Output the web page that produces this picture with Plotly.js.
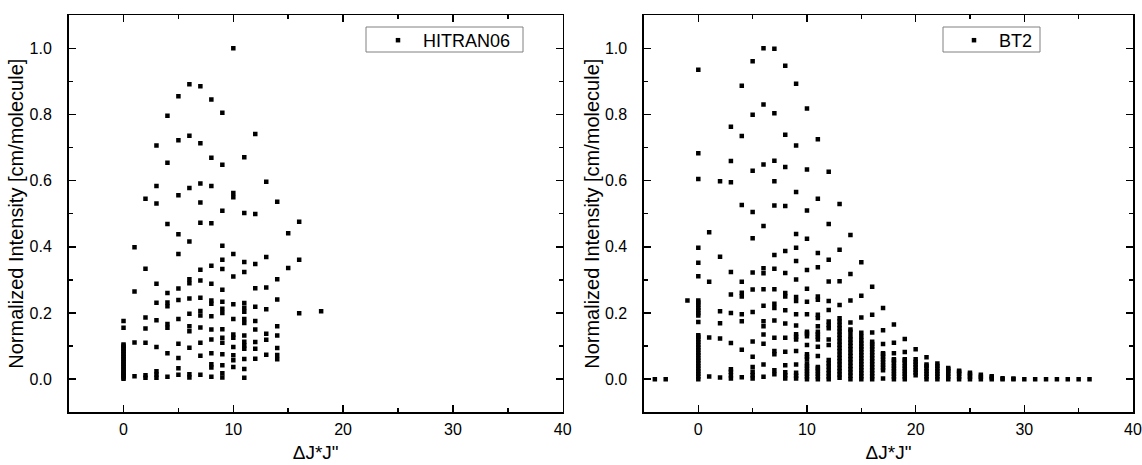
<!DOCTYPE html>
<html>
<head>
<meta charset="utf-8">
<script src="https://cdn.plot.ly/plotly-3.0.1.min.js"></script>
<style>html,body{margin:0;padding:0;background:#fff;}#chart{width:1142px;height:465px;}</style>
</head>
<body>
<div id="chart"></div>
<script>
// ---- Data: HITRAN06 (left panel) ----
const hitranJ = [0,1,2,3,4,5,6,7,8,9,10,11,12,13,14,15,16,18];
const hitranI = [
  [0.001,0.005,0.009,0.013,0.017,0.021,0.026,0.031,0.036,0.041,0.046,0.051,0.056,0.061,0.066,0.071,0.076,0.081,0.086,0.091,0.096,0.101,0.105,0.155,0.176],
  [0.009,0.111,0.265,0.399],
  [0.004,0.012,0.110,0.153,0.186,0.334,0.545],
  [0.004,0.014,0.024,0.097,0.178,0.231,0.288,0.531,0.584,0.706],
  [0.007,0.078,0.155,0.167,0.220,0.232,0.260,0.469,0.654,0.796],
  [0.013,0.033,0.064,0.107,0.182,0.239,0.274,0.378,0.438,0.556,0.722,0.855],
  [0.005,0.015,0.095,0.145,0.160,0.198,0.244,0.290,0.302,0.416,0.578,0.736,0.891],
  [0.013,0.071,0.110,0.156,0.192,0.206,0.246,0.298,0.331,0.473,0.534,0.591,0.713,0.885],
  [0.007,0.035,0.045,0.078,0.120,0.150,0.190,0.228,0.238,0.288,0.343,0.471,0.584,0.669,0.845],
  [0.005,0.018,0.042,0.075,0.110,0.125,0.151,0.200,0.213,0.234,0.270,0.333,0.361,0.403,0.509,0.648,0.805],
  [0.037,0.057,0.072,0.097,0.125,0.135,0.182,0.226,0.310,0.378,0.550,0.563,1.000],
  [0.004,0.031,0.061,0.092,0.102,0.113,0.132,0.170,0.182,0.204,0.216,0.230,0.324,0.354,0.502,0.671],
  [0.062,0.092,0.112,0.150,0.176,0.219,0.275,0.348,0.499,0.741],
  [0.074,0.119,0.137,0.211,0.277,0.369,0.597],
  [0.060,0.073,0.094,0.132,0.160,0.241,0.302,0.536],
  [0.336,0.441],
  [0.199,0.361,0.476],
  [0.205]
];

// ---- Data: BT2 (right panel) ----
const bt2J = [-4,-3,-1,0,1,2,3,4,5,6,7,8,9,10,11,12,13,14,15,16,17,18,19,20,21,22,23,24,25,26,27,28,29,30,31,32,33,34,35,36];
const bt2I = [
  [0.0],
  [0.0],
  [0.238],
  [0.0,0.008,0.016,0.024,0.032,0.040,0.048,0.056,0.064,0.072,0.080,0.088,0.096,0.104,0.112,0.120,0.128,0.133,0.173,0.192,0.200,0.208,0.216,0.224,0.232,0.238,0.311,0.352,0.397,0.605,0.683,0.935],
  [0.008,0.126,0.294,0.444],
  [0.005,0.123,0.169,0.205,0.370,0.598],
  [0.002,0.012,0.022,0.030,0.109,0.200,0.256,0.324,0.595,0.659,0.763],
  [0.006,0.089,0.175,0.196,0.250,0.261,0.294,0.526,0.735,0.887],
  [0.002,0.012,0.022,0.037,0.068,0.114,0.203,0.271,0.322,0.426,0.505,0.630,0.799,0.961],
  [0.007,0.044,0.107,0.135,0.160,0.175,0.222,0.272,0.320,0.335,0.463,0.649,0.830,1.000],
  [0.015,0.027,0.075,0.085,0.125,0.177,0.215,0.228,0.272,0.334,0.375,0.525,0.598,0.660,0.804,0.999],
  [0.002,0.012,0.021,0.042,0.083,0.125,0.168,0.208,0.250,0.260,0.321,0.387,0.523,0.641,0.739,0.947],
  [0.002,0.010,0.019,0.044,0.085,0.120,0.128,0.136,0.162,0.196,0.236,0.248,0.301,0.357,0.397,0.439,0.566,0.706,0.893],
  [0.0,0.008,0.016,0.024,0.032,0.040,0.047,0.060,0.068,0.075,0.103,0.130,0.138,0.143,0.196,0.234,0.273,0.330,0.424,0.510,0.634,0.818],
  [0.0,0.008,0.016,0.024,0.032,0.037,0.070,0.098,0.120,0.128,0.136,0.143,0.160,0.185,0.195,0.240,0.250,0.338,0.381,0.545,0.725],
  [0.0,0.008,0.018,0.028,0.038,0.048,0.058,0.103,0.120,0.154,0.164,0.174,0.209,0.236,0.295,0.361,0.469,0.627],
  [0.004,0.014,0.024,0.034,0.044,0.054,0.064,0.074,0.084,0.094,0.104,0.114,0.124,0.134,0.144,0.154,0.164,0.174,0.184,0.224,0.296,0.391,0.529],
  [0.0,0.010,0.020,0.030,0.040,0.050,0.060,0.070,0.080,0.090,0.100,0.110,0.120,0.130,0.143,0.150,0.171,0.238,0.318,0.436],
  [0.0,0.009,0.018,0.027,0.036,0.045,0.054,0.063,0.072,0.081,0.090,0.099,0.108,0.117,0.128,0.140,0.186,0.252,0.353],
  [0.0,0.009,0.018,0.027,0.036,0.045,0.054,0.063,0.072,0.081,0.090,0.099,0.106,0.113,0.141,0.195,0.279],
  [0.002,0.027,0.035,0.043,0.051,0.059,0.067,0.075,0.078,0.106,0.148,0.215],
  [0.0,0.008,0.016,0.024,0.032,0.040,0.048,0.056,0.060,0.078,0.110,0.165],
  [0.0,0.008,0.016,0.024,0.032,0.040,0.048,0.056,0.060,0.082,0.121],
  [0.012,0.020,0.028,0.036,0.044,0.052,0.060,0.090],
  [0.0,0.008,0.016,0.024,0.032,0.040,0.044,0.066],
  [0.0,0.008,0.016,0.024,0.032,0.040,0.047],
  [0.0,0.008,0.016,0.024,0.030,0.034],
  [0.0,0.008,0.016,0.022,0.025],
  [0.0,0.007,0.014,0.019],
  [0.0,0.007,0.013],
  [0.0,0.005,0.009],
  [0.0,0.003],
  [0.0,0.002],
  [0.0],[0.0],[0.0],[0.0],[0.0],[0.0],[0.0]
];

const xTitle = 'ΔJ*J"';
const yTitle = 'Normalized Intensity [cm/molecule]';

function flatten(js, cols) {
  const x = [], y = [];
  js.forEach((j, i) => cols[i].forEach(v => { x.push(j); y.push(v); }));
  return {x, y};
}

const h = flatten(hitranJ, hitranI);
const b = flatten(bt2J, bt2I);

const marker = {symbol: 'square', size: 4.5, color: '#000', line: {width: 0}};
const traces = [
  {type: 'scatter', mode: 'markers', name: 'HITRAN06', x: h.x, y: h.y, xaxis: 'x', yaxis: 'y', marker: marker, legend: 'legend'},
  {type: 'scatter', mode: 'markers', name: 'BT2', x: b.x, y: b.y, xaxis: 'x2', yaxis: 'y2', marker: marker, legend: 'legend2'}
];

const FONT = 'Liberation Sans, Arial, Helvetica, sans-serif';
function xax(domain) {
  return {
    domain: domain, range: [-5, 40], tick0: 0, dtick: 10,
    ticks: 'inside', ticklen: 7, tickwidth: 1.5, tickcolor: '#000',
    minor: {dtick: 5, ticks: 'inside', ticklen: 4, tickwidth: 1.5, tickcolor: '#000'},
    showline: true, linewidth: 1.6, linecolor: '#000', mirror: 'allticks',
    showgrid: false, zeroline: false, ticklabelstandoff: 2,
    tickfont: {family: FONT, size: 16, color: '#000'},
    title: {text: xTitle, font: {family: FONT, size: 19, color: '#000'}, standoff: 8},
    automargin: false
  };
}
function yax(anchor) {
  return {
    domain: [0.1135, 0.9673], range: [-0.1, 1.1], tick0: 0, dtick: 0.2, tickformat: '.1f',
    anchor: anchor,
    ticks: 'inside', ticklen: 7, tickwidth: 1.5, tickcolor: '#000',
    minor: {dtick: 0.1, ticks: 'inside', ticklen: 4, tickwidth: 1.5, tickcolor: '#000'},
    showline: true, linewidth: 1.6, linecolor: '#000', mirror: 'allticks',
    showgrid: false, zeroline: false, ticklabelstandoff: 12,
    tickfont: {family: FONT, size: 16, color: '#000'},
    title: {text: yTitle, font: {family: FONT, size: 20, color: '#000'}, standoff: 0},
    automargin: false
  };
}
const xa1 = xax([0.0601, 0.4927]); xa1.anchor = 'y';
const xa2 = xax([0.5639, 0.9921]); xa2.anchor = 'y2';

const legendBase = {
  xanchor: 'left', yanchor: 'top', y: 0.9527,
  borderwidth: 0, bgcolor: 'rgba(0,0,0,0)',
  font: {family: FONT, size: 18, color: '#000'}, itemwidth: 40
};

// legend frames (paper coordinates)
const legendBoxes = [
  {x0: 366 / 1142, x1: 523 / 1142},
  {x0: 943 / 1142, x1: 1040 / 1142}
];
const shapes = legendBoxes.map(bx => ({
  type: 'rect', xref: 'paper', yref: 'paper',
  x0: bx.x0, x1: bx.x1, y0: 1 - 52 / 465, y1: 1 - 27 / 465,
  line: {color: '#808080', width: 1}, fillcolor: 'rgba(0,0,0,0)', layer: 'above'
}));

const layout = {
  width: 1142, height: 465,
  margin: {l: 0, r: 0, t: 0, b: 0},
  paper_bgcolor: '#fff', plot_bgcolor: '#fff',
  font: {family: FONT, color: '#000'},
  showlegend: true,
  xaxis: xa1, yaxis: yax('x'),
  xaxis2: xa2, yaxis2: yax('x2'),
  legend: Object.assign({}, legendBase, {x: 373 / 1142}),
  legend2: Object.assign({}, legendBase, {x: 949 / 1142}),
  shapes: shapes
};

Plotly.newPlot('chart', traces, layout, {staticPlot: true, displayModeBar: false});
</script>
</body>
</html>
